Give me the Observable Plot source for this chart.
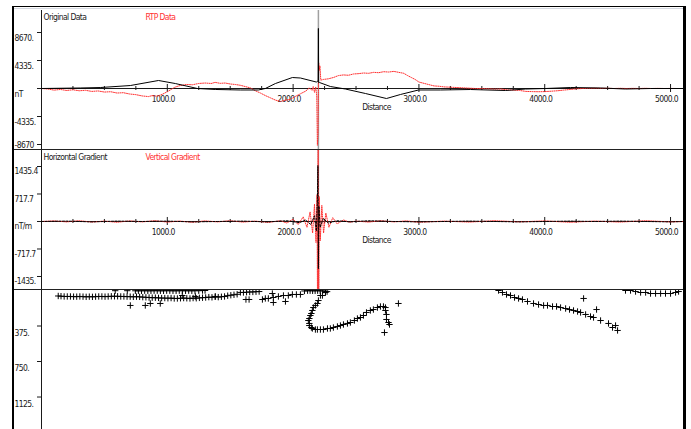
<!DOCTYPE html>
<html><head><meta charset="utf-8">
<script src="https://cdn.jsdelivr.net/npm/d3@7"></script>
<script src="https://cdn.jsdelivr.net/npm/@observablehq/plot@0.6"></script>
<style>
html,body{margin:0;padding:0;background:#fff;}
body{width:691px;height:429px;overflow:hidden;position:relative;}
.panel{position:absolute;left:14px;}
.panel svg{display:block;font-family:"Liberation Sans Narrow","DejaVu Sans Condensed",sans-serif;font-stretch:condensed;}
.panel svg text{letter-spacing:-0.6px;}
.frame{position:absolute;left:12px;top:6px;width:669px;height:430px;border-left:2px solid #000;border-top:1.5px solid #000;border-right:3px solid #000;pointer-events:none;}
.sep{position:absolute;left:14px;width:669px;height:0;border-top:1.5px solid #222;}
.shade{position:absolute;left:14px;top:8px;width:669px;height:1px;background:#d4d8e0;}
</style></head><body>
<div id="p1" class="panel" style="top:8px"></div>
<div id="p2" class="panel" style="top:150px"></div>
<div id="p3" class="panel" style="top:290px"></div>
<div class="shade"></div>
<div class="sep" style="top:149px"></div>
<div class="sep" style="top:289px"></div>
<div class="frame"></div>
<script>
// ---- shared x axis (Distance) ----
const xMax = 5103;
const majorTicks = [1000, 2000, 3000, 4000, 5000];
const majorLabels = ["1000.0", "2000.0", "3000.0", "4000.0", "5000.0"];
const minorTicks = [250, 500, 750, 1250, 1500, 1750, 2250, 2500, 2750, 3250, 3500, 3750, 4250, 4500, 4750];
const markerDistance = [2201];

// ---- panel 1: Original Data / RTP Data (nT) ----
const yTicks1 = [8670, 4335, 0, -4335, -8670];
const yLabels1 = ["8670.", "4335.", "nT", "-4335.", "-8670"];
const origDist = [0, 308, 467, 706, 930, 1064, 1239, 1381, 1580, 1723, 1779, 1859, 1994, 2058, 2185, 2199, 2201, 2203, 2209, 2296, 2416, 2575, 2742, 2853, 2997, 3171, 3410, 3688, 3847, 4006, 4205, 4444, 4643, 4842, 5103];
const origVal  = [0, 80, 150, 460, 1240, 770, 0, -150, -230, -230, 0, 770, 1700, 1625, 1000, 1200, 9300, 900, 930, 310, -80, -775, -1550, -930, -230, -230, -155, -310, -80, 0, 155, 80, -80, 0, 0];
const rtpDist = [0, 50, 100, 150, 200, 250, 300, 350, 400, 450, 500, 550, 600, 650, 700, 750, 800, 850, 880, 920, 960, 1000, 1030, 1060, 1100, 1150, 1200, 1250, 1300, 1350, 1380, 1420, 1460, 1500, 1540, 1580, 1620, 1660, 1700, 1740, 1780, 1820, 1860, 1900, 1940, 1980, 2020, 2060, 2100, 2130, 2150, 2160, 2170, 2180, 2188, 2193, 2198, 2203, 2208, 2213, 2220, 2240, 2280, 2320, 2360, 2400, 2440, 2480, 2520, 2560, 2600, 2640, 2680, 2720, 2760, 2800, 2840, 2880, 2910, 2940, 2970, 3000, 3040, 3080, 3120, 3160, 3200, 3250, 3300, 3350, 3400, 3450, 3500, 3550, 3600, 3650, 3700, 3750, 3800, 3850, 3900, 3950, 4000, 4050, 4100, 4150, 4200, 4250, 4300, 4350, 4400, 4450, 4500, 4550, 4600, 4650, 4700, 4750, 4800, 4850, 4900, 4950, 5000, 5050, 5103];
const rtpVal  = [0, -80, -250, -150, -300, -200, -350, -280, -450, -380, -550, -500, -700, -650, -850, -950, -1150, -1250, -1100, -1200, -900, -500, -150, 200, 450, 620, 580, 780, 850, 780, 950, 800, 850, 700, 620, 500, 300, 100, -350, -700, -1100, -1450, -1800, -2000, -1800, -1650, -1200, -800, -400, 100, -300, 300, -600, 250, -1200, -8800, -7000, 4000, 2800, 3500, 1300, 1400, 1500, 1700, 2000, 2100, 2050, 2250, 2300, 2400, 2350, 2500, 2450, 2600, 2550, 2650, 2500, 2350, 2000, 1700, 1400, 1000, 800, 600, 400, 350, 250, 200, 150, 100, 50, 0, -20, -50, -100, -80, -200, -250, -300, -450, -480, -500, -480, -420, -350, -250, -150, -50, 0, 30, 50, 20, 40, 0, 30, 0, 20, 0, 30, 0, 20, 0, 10, 0, 0];

// ---- panel 2: Horizontal / Vertical Gradient (nT/m) ----
const yTicks2 = [1435.4, 717.7, 0, -717.7, -1435.4];
const yLabels2 = ["1435.4", "717.7", "nT/m", "-717.7", "-1435."];
const hgDist = [0, 200, 400, 600, 800, 1000, 1200, 1400, 1600, 1800, 1950, 2050, 2100, 2140, 2170, 2185, 2193, 2197, 2201, 2205, 2215, 2240, 2280, 2350, 2450, 2600, 2800, 3000, 3200, 3400, 3600, 3800, 4000, 4200, 4400, 4600, 4800, 5000, 5103];
const hgVal  = [0, 10, -10, 10, 0, 10, -10, 0, 10, -10, 20, -30, 40, -80, 150, -250, 600, 1460, -1230, 400, -150, 80, -40, 20, -10, 20, 0, -10, 0, 10, 0, -10, 0, 10, 0, 10, 0, -10, 0];
const vgDist = [0, 100, 200, 300, 400, 500, 600, 700, 800, 900, 1000, 1100, 1200, 1300, 1400, 1500, 1600, 1700, 1800, 1900, 1950, 2000, 2040, 2080, 2110, 2135, 2155, 2170, 2182, 2190, 2195, 2199, 2203, 2208, 2216, 2228, 2242, 2260, 2285, 2315, 2350, 2400, 2450, 2500, 2600, 2700, 2800, 2900, 3000, 3200, 3400, 3600, 3800, 4000, 4200, 4400, 4600, 4800, 5000, 5103];
const vgVal  = [0, 15, -10, 20, -15, 10, -20, 15, -10, 20, -15, 10, -20, 15, -10, 20, -15, 10, -25, 20, -40, 60, -80, 120, -150, 250, -300, 450, -550, 700, -3000, 3000, -3000, 650, -500, 420, -300, 220, -150, 100, -60, 40, -20, 10, -15, 20, -10, 15, -20, 10, -15, 20, -10, 15, -20, 10, -15, 20, -10, 0];

// ---- panel 3: depth solutions (+) ----
const yTicks3 = [375, 750, 1125];
const yLabels3 = ["375.", "750.", "1125."];
const solDist = [133, 155, 180, 205, 230, 255, 280, 305, 330, 355, 380, 405, 430, 455, 480, 505, 530, 555, 580, 605, 630, 655, 680, 705, 730, 755, 780, 805, 830, 855, 880, 905, 930, 955, 980, 1005, 1030, 1055, 1080, 1105, 1130, 1155, 1180, 1205, 1230, 1255, 1280, 1305, 1330, 1355, 1380, 1405, 1430, 1455, 1480, 1505, 1530, 1555,
  586, 682, 746, 770, 795, 820, 845, 870, 895, 920, 945, 970, 995, 1020, 1045, 1070, 1095, 1120, 1145, 1170, 1195, 1220, 1250, 1280, 1300,
  706, 825, 865, 944, 1119, 1223, 1382,
  1581, 1605, 1630, 1655, 1680, 1705, 1730, 1625, 1650,
  1756, 1779, 1803, 1843, 1883, 1923, 1962, 1994, 2026, 2058, 1835, 1843, 1939,
  2090, 2115, 2135, 2155, 2175, 2195, 2215, 2235, 2257, 2270,
  2257, 2233, 2217, 2201, 2193, 2177, 2161, 2153, 2145, 2137, 2129, 2121, 2129, 2129, 2145, 2153, 2177, 2193, 2217, 2241, 2273, 2296, 2320, 2352, 2376, 2400, 2432, 2455, 2487, 2511, 2535, 2559, 2583, 2614, 2638, 2670, 2694, 2718, 2734, 2734, 2742, 2742, 2766, 2758, 2726, 2837,
  3633, 3664, 3696, 3728, 3760, 3792, 3823, 3863, 3911, 3951, 3991, 4022, 4062, 4094, 4126, 4166, 4197, 4229, 4261, 4285, 4325, 4364, 4388, 4444, 4507, 4539, 4563, 4579, 4309, 4412,
  4642, 4682, 4722, 4762, 4802, 4841, 4881, 4921, 4960, 5000, 5040, 5064];
const solDepth = [58, 60, 63, 63, 63, 65, 65, 63, 65, 67, 65, 67, 65, 63, 63, 65, 63, 61, 61, 61, 63, 63, 65, 65, 67, 65, 67, 70, 72, 74, 76, 76, 78, 80, 80, 82, 80, 84, 84, 82, 80, 82, 84, 80, 82, 78, 76, 74, 70, 72, 66, 70, 66, 63, 55, 50, 45, 40,
  2, 2, 3, 3, 3, 2, 3, 3, 2, 2, 3, 3, 2, 2, 3, 3, 2, 2, 3, 2, 3, 2, 2, 0, 0,
  158, 158, 137, 137, 53, 63, 63,
  20, 21, 18, 16, 15, 13, 11, 95, 95,
  95, 84, 84, 74, 63, 53, 53, 42, 42, 42, 32, 127, 116,
  5, 2, 2, 3, 3, 2, 3, 5, 8, 12,
  21, 53, 53, 106, 137, 158, 180, 211, 243, 264, 296, 317, 348, 370, 391, 401, 412, 412, 412, 412, 401, 401, 391, 380, 370, 359, 348, 338, 317, 296, 285, 264, 232, 211, 201, 180, 169, 169, 180, 211, 253, 306, 359, 338, 444, 137,
  0, 21, 42, 53, 74, 84, 95, 116, 137, 148, 158, 158, 169, 169, 180, 190, 201, 211, 222, 232, 253, 275, 285, 317, 348, 391, 370, 422, 84, 201,
  0, 0, 11, 21, 21, 32, 32, 32, 32, 32, 21, 11];

const RED = "#ff3030";
const INK = "#1a1a1a";
const W = 669, ML = 27;
const baseStyle = {background: "transparent", fontSize: "8.5px", color: INK, overflow: "hidden"};

function xAxisMarks() {
  return [
    Plot.ruleY([0], {stroke: INK}),
    Plot.ruleX(minorTicks, {x: d => d, y1: 0, y2: 0, insetTop: -2, insetBottom: -2, stroke: INK}),
    Plot.ruleX(majorTicks, {x: d => d, y1: 0, y2: 0, insetTop: -4, insetBottom: -4, stroke: INK}),
    Plot.text(majorTicks, {x: d => d, y: 0, text: (d, i) => majorLabels[i], dx: -4, dy: 11, fill: INK}),
    Plot.text(["Distance"], {frameAnchor: "middle", y: 0, dx: 14, dy: 19, fill: INK})
  ];
}
function yAxisMarks(ticks, labels, dys) {
  return [
    Plot.ruleX([0], {stroke: INK}),
    Plot.ruleY(ticks, {y: d => d, x1: 0, x2: 0, insetLeft: -4, stroke: INK}),
    ...ticks.map((t, i) => Plot.text([t], {y: d => d, text: () => labels[i], frameAnchor: "left", dx: -27, dy: dys[i], textAnchor: "start", fill: INK}))
  ];
}

// Panel 1
document.getElementById("p1").appendChild(Plot.plot({
  width: W, height: 142, marginLeft: ML, marginRight: 0, marginTop: 2, marginBottom: 0,
  style: baseStyle,
  x: {domain: [0, xMax], axis: null},
  y: {domain: [-9598, 12077], axis: null},
  marks: [
    Plot.ruleX(markerDistance, {x: d => d, stroke: "#a0a0a0", strokeWidth: 1.5}),
    ...xAxisMarks(),
    ...yAxisMarks(yTicks1, yLabels1, [6, 6, 6, 6, 1]),
    Plot.line(rtpDist, {x: d => d, y: (d, i) => rtpVal[i], stroke: RED, strokeWidth: 1, strokeDasharray: "1,1.2", clip: true}),
    Plot.line(origDist, {x: d => d, y: (d, i) => origVal[i], stroke: "#000", strokeWidth: 1, clip: true}),
    Plot.text(["Original Data"], {frameAnchor: "top-left", dx: 2, dy: 3, lineAnchor: "top", textAnchor: "start", fill: INK}),
    Plot.text(["RTP Data"], {frameAnchor: "top-left", dx: 104, dy: 3, lineAnchor: "top", textAnchor: "start", fill: RED})
  ]
}));

// Panel 2
document.getElementById("p2").appendChild(Plot.plot({
  width: W, height: 140, marginLeft: ML, marginRight: 0, marginTop: 0, marginBottom: 0,
  style: baseStyle,
  x: {domain: [0, xMax], axis: null},
  y: {domain: [-1801, 1853], axis: null},
  marks: [
    Plot.ruleX(markerDistance, {x: d => d, stroke: "#a0a0a0", strokeWidth: 1.5}),
    ...xAxisMarks(),
    ...yAxisMarks(yTicks2, yLabels2, [5, 5, 5, 5, 5]),
    Plot.line(vgDist, {x: d => d, y: (d, i) => vgVal[i], stroke: RED, strokeWidth: 1, strokeDasharray: "1,1.2", clip: true}),
    Plot.line(hgDist, {x: d => d, y: (d, i) => hgVal[i], stroke: "#000", strokeWidth: 1, strokeDasharray: "2,1.5", clip: true}),
    Plot.text(["Horizontal Gradient"], {frameAnchor: "top-left", dx: 2, dy: 3, lineAnchor: "top", textAnchor: "start", fill: INK}),
    Plot.text(["Vertical Gradient"], {frameAnchor: "top-left", dx: 104, dy: 3, lineAnchor: "top", textAnchor: "start", fill: RED})
  ]
}));

// Panel 3
document.getElementById("p3").appendChild(Plot.plot({
  width: W, height: 139, marginLeft: ML, marginRight: 0, marginTop: 0, marginBottom: 0,
  style: baseStyle,
  x: {domain: [0, xMax], axis: null},
  y: {domain: [0, 1468], reverse: true, axis: null},
  marks: [
    ...yAxisMarks(yTicks3, yLabels3, [7, 7, 7]),
    Plot.dot(solDist, {x: d => d, y: (d, i) => solDepth[i], symbol: "plus", r: 2.2, stroke: "#000", strokeWidth: 1})
  ]
}));
</script>
</body></html>
